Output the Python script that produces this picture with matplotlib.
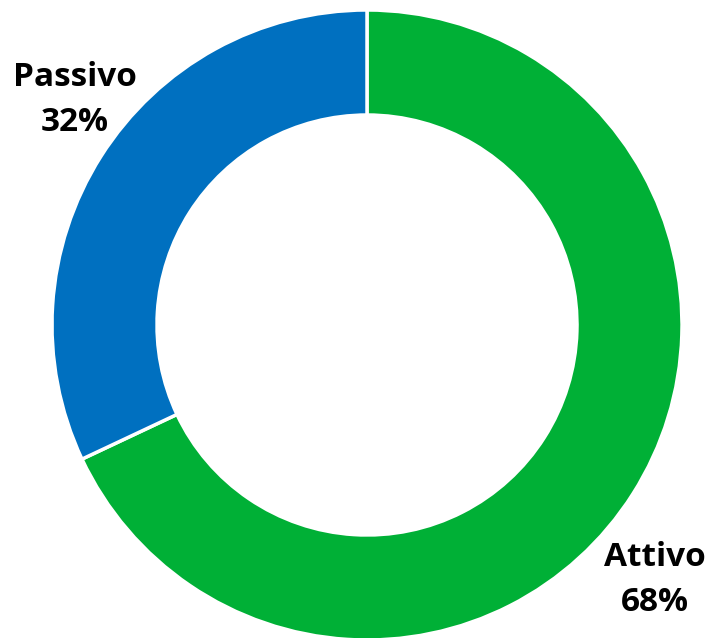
import matplotlib.pyplot as plt

labels = ["Attivo", "Passivo"]
shares = [68, 32]
colors = ["#00B036", "#0070C0"]

fig = plt.figure(figsize=(7.17, 6.38), dpi=100)
ax = fig.add_axes([0, 0, 1, 1])

ax.pie(
    shares,
    colors=colors,
    startangle=90,
    counterclock=False,
    center=(367, 313),
    radius=315,
    wedgeprops=dict(width=105, edgecolor="white", linewidth=2.5),
)

# labels sit outside the ring
ax.text(75, 538, "Passivo\n32%", ha="center", va="center",
        fontsize=24, fontweight="bold", family="Open Sans", linespacing=1.45)
ax.text(655, 58, "Attivo\n68%", ha="center", va="center",
        fontsize=24, fontweight="bold", family="Open Sans", linespacing=1.45)

ax.set_xlim(0, 717)
ax.set_ylim(0, 638)
ax.set_aspect("equal")
ax.axis("off")

fig.savefig("out.png", dpi=100)
